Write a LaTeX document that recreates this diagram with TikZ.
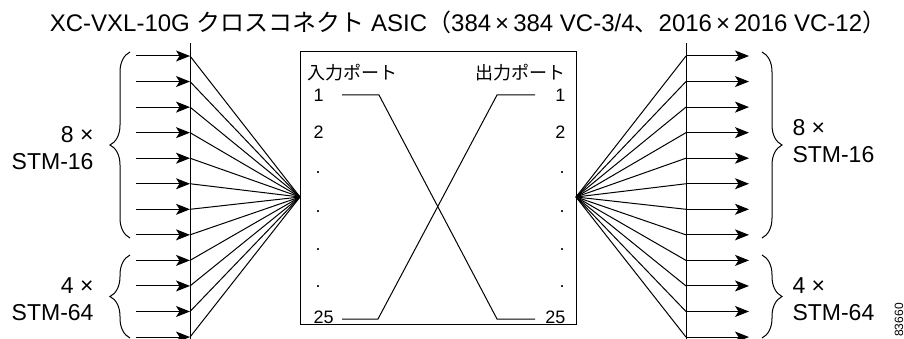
\documentclass[tikz,border=0pt]{standalone}
\usepackage{fontspec}
\setmainfont{Liberation Sans}
\newfontfamily\jp{Noto Sans CJK JP}
\usetikzlibrary{arrows.meta, decorations.pathreplacing, positioning}

\begin{document}
\begin{tikzpicture}[x=1pt, y=-1pt, line width=1pt,
    feed/.style={-{Stealth[length=14pt, width=11pt, inset=3.5pt]}},
    group/.style={decorate, decoration={brace, amplitude=20pt}},
    lbl/.style={font=\fontsize{23}{27}\selectfont, inner sep=0pt},
    port/.style={font=\fontsize{18}{20}\selectfont, inner sep=0pt},
    jpport/.style={font=\jp\fontsize{18}{20}\selectfont, inner sep=0pt}]
    \useasboundingbox (0,0) rectangle (904,339);

    \node[lbl, font=\fontsize{24}{26}\selectfont] (title) at (468,22) {XC-VXL-10G {\jp クロスコネクト} ASIC{\jp （}384\,×\,384 VC-3/4{\jp 、}2016\,×\,2016 VC-12{\jp ）}};

    % cross-connect ASIC
    \node[draw, minimum width=276pt, minimum height=272pt, inner sep=0pt] (asic) at (438,188) {};
    \coordinate (fanL) at (300,197);
    \coordinate (fanR) at (576,197);

    % input side and output side buses
    \coordinate (busLt) at (190,43);
    \coordinate (busLb) at (190,339);
    \coordinate (busRt) at (686,43);
    \coordinate (busRb) at (686,339);
    \draw (busLt) -- (busLb);
    \draw (busRt) -- (busRb);

    \foreach \i in {0,...,11} {
        \pgfmathsetmacro\yy{56+25.55*\i}
        \coordinate (srcL\i) at (136,\yy);
        \coordinate (inL\i)  at (190,\yy);
        \coordinate (outR\i) at (686,\yy);
        \coordinate (dstR\i) at (749,\yy);
        \draw[feed] (srcL\i) -- (inL\i);
        \draw (inL\i) -- (fanL);
        \draw (fanR) -- (outR\i);
        \draw[feed] (outR\i) -- (dstR\i);
    }

    % braces and line groups
    \draw[group] (130,238) -- (130,52);
    \draw[group] (130,338) -- (130,255);
    \draw[group] (762,52) -- (762,238);
    \draw[group] (762,255) -- (762,338);

    \node[lbl, align=right, anchor=east] (stm16L) at (94,148) {8 ×\\STM-16};
    \node[lbl, align=right, anchor=east] (stm64L) at (94,299) {4 ×\\STM-64};
    \node[lbl, align=left, anchor=west]  (stm16R) at (792,141) {8 ×\\STM-16};
    \node[lbl, align=left, anchor=west]  (stm64R) at (792,299) {4 ×\\STM-64};

    % port numbers
    \node[jpport, anchor=west] (inhead)  at (307,73) {入力ポート};
    \node[jpport, anchor=east] (outhead) at (566,73) {出力ポート};
    \node[port, anchor=west] (pin1)  at (313,95)  {1};
    \node[port, anchor=west] (pin2)  at (313,132) {2};
    \node[port, anchor=west] (pin25) at (313,317) {25};
    \node[port, anchor=east] (pout1)  at (566,95)  {1};
    \node[port, anchor=east] (pout2)  at (566,132) {2};
    \node[port, anchor=east] (pout25) at (566,317) {25};
    \foreach \y [count=\k] in {173,212,250,287} {
        \node[port] (pindot\k)  at (318,\y) {.};
        \node[port] (poutdot\k) at (562,\y) {.};
    }

    % cross connections
    \coordinate (a1)  at (342,95);
    \coordinate (a25) at (342,319);
    \coordinate (b1)  at (535,95);
    \coordinate (b25) at (535,319);
    \draw (a1) -- (379,95) -- (497,319) -- (b25);
    \draw (a25) -- (378,319) -- (497,95) -- (b1);

    \node[font=\fontsize{12}{12}\selectfont, rotate=90, inner sep=0pt] (fignum) at (899,320) {83660};
\end{tikzpicture}
\end{document}
